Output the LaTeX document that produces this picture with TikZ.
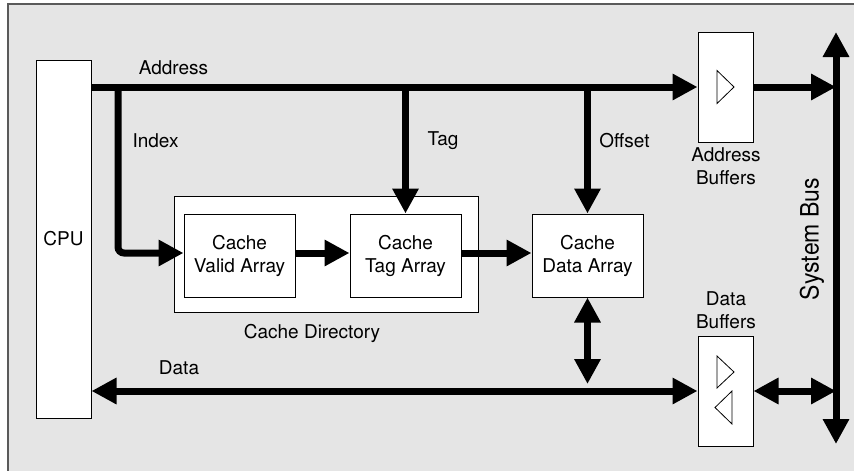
\documentclass[tikz,border=0pt]{standalone}
\usepackage{fontspec}
\setmainfont{TeX Gyre Heros}
\usetikzlibrary{arrows.meta}
\definecolor{bggray}{RGB}{229,229,229}
\definecolor{framegray}{RGB}{90,90,90}
\tikzset{
  box/.style={draw=black, fill=white, line width=1pt, inner sep=0pt, align=center,
              font=\fontsize{19}{23}\selectfont},
  lbl/.style={inner sep=0pt, align=center, font=\fontsize{19}{23}\selectfont},
  bus/.style={line width=7pt},
  Tri/.tip={Triangle[length=25pt,width=25pt]},
  buftri/.style={draw=black, fill=white, line width=0.8pt, line join=miter}
}
\begin{document}
\begin{tikzpicture}[x=1pt,y=-1pt]
\useasboundingbox (0,0) rectangle (854,471);
% background frame
\fill[bggray] (8,4) rectangle (854,471);
\draw[framegray, line width=1.3pt] (8,471) -- (8,4) -- (854,4);

% blocks
\node[box, minimum width=55pt, minimum height=358pt] (cpu) at (63.5,239) {CPU};
\node[box, minimum width=304pt, minimum height=116pt] (dir) at (326,254) {};
\node[box, minimum width=111pt, minimum height=83pt] (valid) at (239.5,255.5) {Cache\\Valid Array};
\node[box, minimum width=111pt, minimum height=83pt] (tag) at (405.5,255.5) {Cache\\Tag Array};
\node[box, minimum width=111pt, minimum height=83pt] (data) at (587.5,255.5) {Cache\\Data Array};
\node[box, minimum width=55pt, minimum height=110pt] (abuf) at (725.5,87) {};
\node[box, minimum width=55pt, minimum height=110pt] (dbuf) at (725.5,391) {};

% buffer triangles
\draw[buftri] ([shift={(-8.5,-16.5)}]abuf.center) -- ([shift={(-8.5,16.5)}]abuf.center) -- ([shift={(8.5,0)}]abuf.center) -- cycle;
\draw[buftri] ([shift={(-8.5,-35)}]dbuf.center) -- ([shift={(-8.5,-3)}]dbuf.center) -- ([shift={(8.5,-19)}]dbuf.center) -- cycle;
\draw[buftri] ([shift={(6.5,0)}]dbuf.center) -- ([shift={(6.5,33)}]dbuf.center) -- ([shift={(-10.5,16.5)}]dbuf.center) -- cycle;

% coordinates
\coordinate (ij) at (118,87);
\coordinate (vin) at ([yshift=2.5pt]valid.west);
\coordinate (vout) at ([yshift=2.5pt]valid.east);
\coordinate (tin) at ([yshift=2.5pt]tag.west);
\coordinate (tout) at ([yshift=2.5pt]tag.east);
\coordinate (din) at ([yshift=2.5pt]data.west);
\coordinate (bustop) at (836,32);
\coordinate (busbot) at (836,444);

% connectors
\draw[bus,-{Tri}] (cpu.east |- abuf.west) -- (abuf.west);
\draw[bus,-{Tri},rounded corners=6pt] (ij) -- (ij |- vin) -- (vin);
\draw[bus,-{Tri}] (tag.north |- abuf.west) -- (tag.north);
\draw[bus,-{Tri}] (data.north |- abuf.west) -- (data.north);
\draw[bus,-{Tri}] (vout) -- (tin);
\draw[bus,-{Tri}] (tout) -- (din);
\draw[bus,{Tri}-{Tri}] (cpu.east |- dbuf.west) -- (dbuf.west);
\draw[bus,{Tri}-{Tri},shorten >=7pt] (data.south) -- (data.south |- dbuf.west);
\draw[bus,{Tri}-{Tri}] (busbot) -- (bustop);
\draw[bus,-{Tri}] (abuf.east) -- (abuf.east -| bustop);
\draw[bus,{Tri}-{Tri}] (dbuf.east) -- (dbuf.east -| bustop);

% labels
\node[lbl] (laddr) at (173.5,68) {Address};
\node[lbl] (lindex) at (155.5,141) {Index};
\node[lbl] (ltag) at (443,141) {Tag};
\node[lbl] (loff) at (624.5,141) {Offset};
\node[lbl] (labuf) at (726,166.5) {Address\\Buffers};
\node[lbl] (ldbuf) at (726,310) {Data\\Buffers};
\node[lbl] (ldir) at (312,333) {Cache Directory};
\node[lbl] (ldata) at (179,368) {Data};
\node[lbl, rotate=90, font=\fontsize{23}{27}\selectfont] (lbus) at (812,239) {\scalebox{1}[1.1]{System Bus}};
\end{tikzpicture}
\end{document}
